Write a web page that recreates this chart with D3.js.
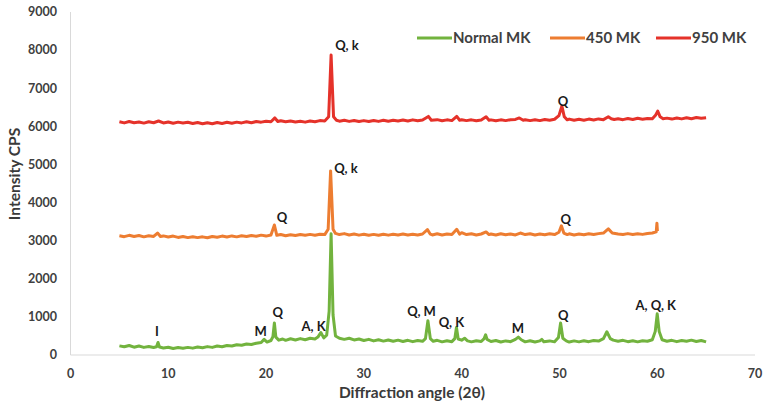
<!DOCTYPE html>
<html><head><meta charset="utf-8">
<script src="https://cdn.jsdelivr.net/npm/d3@7"></script>
<style>html,body{margin:0;padding:0;background:#fff;}svg{display:block;}</style>
</head><body>
<svg id="chart" width="764" height="413"></svg>
<script>
const seriesNames = ["Normal MK", "450 MK", "950 MK"];
const seriesColors = ["#72b33e", "#ed7d31", "#e5322a"];
const xTicks = [0, 10, 20, 30, 40, 50, 60, 70];
const yTicks = [0, 1000, 2000, 3000, 4000, 5000, 6000, 7000, 8000, 9000];

const normalMK = [[5.0,240],[5.5,215],[6.0,250],[6.5,205],[7.0,235],[7.5,200],[8.0,225],[8.5,195],[8.8,215],[8.95,330],[9.1,210],[9.5,185],[10.0,205],[10.5,170],[11.0,195],[11.5,175],[12.0,200],[12.5,180],[13.0,210],[13.5,190],[14.0,220],[14.5,200],[15.0,235],[15.5,215],[16.0,250],[16.5,235],[17.0,270],[17.5,255],[18.0,290],[18.5,275],[19.0,310],[19.5,330],[19.8,410],[20.1,340],[20.5,380],[20.7,480],[20.85,840],[21.0,470],[21.3,390],[21.7,420],[22.0,385],[22.5,425],[23.0,395],[23.5,430],[24.0,400],[24.5,440],[25.0,420],[25.3,470],[25.6,590],[25.9,450],[26.2,520],[26.45,1150],[26.65,3180],[26.85,1050],[27.1,500],[27.5,440],[28.0,410],[28.5,440],[29.0,395],[29.5,420],[30.0,380],[30.5,410],[31.0,370],[31.5,400],[32.0,365],[32.5,395],[33.0,360],[33.5,390],[34.0,355],[34.5,385],[35.0,350],[35.5,380],[36.0,360],[36.3,430],[36.55,900],[36.8,430],[37.1,360],[37.5,385],[38.0,345],[38.5,375],[39.0,350],[39.3,430],[39.47,720],[39.65,420],[40.0,390],[40.3,440],[40.6,370],[41.0,345],[41.5,375],[42.0,355],[42.3,430],[42.45,530],[42.6,410],[43.0,355],[43.5,380],[44.0,340],[44.5,370],[45.0,350],[45.5,410],[45.8,470],[46.1,400],[46.5,345],[47.0,375],[47.5,340],[48.0,370],[48.2,410],[48.4,350],[49.0,370],[49.5,345],[49.9,460],[50.12,840],[50.35,440],[50.7,370],[51.0,340],[51.5,370],[52.0,345],[52.5,375],[53.0,350],[53.5,380],[54.0,365],[54.5,430],[54.85,610],[55.2,430],[55.5,390],[56.0,360],[56.5,385],[57.0,350],[57.5,375],[58.0,345],[58.5,375],[59.0,360],[59.5,400],[59.8,620],[60.0,1080],[60.2,620],[60.5,400],[61.0,360],[61.5,385],[62.0,350],[62.5,380],[63.0,360],[63.5,390],[64.0,355],[64.5,380],[65.0,345]];

const mk450 = [[5.0,3130],[5.5,3105],[6.0,3140],[6.5,3110],[7.0,3135],[7.5,3100],[8.0,3130],[8.5,3110],[8.9,3200],[9.2,3110],[9.5,3125],[10.0,3095],[10.5,3120],[11.0,3085],[11.5,3110],[12.0,3080],[12.5,3105],[13.0,3080],[13.5,3100],[14.0,3075],[14.5,3110],[15.0,3090],[15.5,3120],[16.0,3095],[16.5,3125],[17.0,3100],[17.5,3130],[18.0,3110],[18.5,3135],[19.0,3115],[19.5,3145],[20.0,3120],[20.5,3150],[20.85,3410],[21.1,3140],[21.5,3160],[22.0,3130],[22.5,3155],[23.0,3135],[23.5,3160],[24.0,3140],[24.5,3165],[25.0,3140],[25.5,3170],[26.0,3160],[26.35,3300],[26.6,4830],[26.85,3300],[27.1,3190],[27.5,3160],[28.0,3185],[28.5,3150],[29.0,3175],[29.5,3145],[30.0,3170],[30.5,3140],[31.0,3165],[31.5,3140],[32.0,3170],[32.5,3145],[33.0,3170],[33.5,3150],[34.0,3175],[34.5,3150],[35.0,3170],[35.5,3150],[36.0,3175],[36.5,3290],[36.8,3170],[37.0,3150],[37.5,3180],[38.0,3150],[38.5,3175],[39.0,3160],[39.5,3300],[39.8,3170],[40.0,3210],[40.5,3160],[41.0,3180],[41.5,3150],[42.0,3175],[42.5,3230],[42.8,3160],[43.0,3175],[43.5,3150],[44.0,3180],[44.5,3155],[45.0,3175],[45.5,3150],[46.0,3200],[46.5,3160],[47.0,3180],[47.5,3150],[48.0,3175],[48.5,3155],[49.0,3180],[49.5,3160],[49.95,3220],[50.2,3390],[50.45,3200],[50.8,3160],[51.0,3180],[51.5,3150],[52.0,3175],[52.5,3155],[53.0,3180],[53.5,3160],[54.0,3185],[54.5,3200],[55.0,3310],[55.4,3200],[56.0,3175],[56.5,3160],[57.0,3185],[57.5,3160],[58.0,3180],[58.5,3165],[59.0,3190],[59.5,3200],[59.9,3230],[59.97,3460],[60.02,3250]];

const mk950 = [[5.0,6120],[5.5,6090],[6.0,6125],[6.5,6095],[7.0,6115],[7.5,6085],[8.0,6120],[8.5,6095],[9.0,6140],[9.5,6090],[10.0,6115],[10.5,6080],[11.0,6110],[11.5,6085],[12.0,6105],[12.5,6075],[13.0,6100],[13.5,6070],[14.0,6095],[14.5,6070],[15.0,6100],[15.5,6075],[16.0,6105],[16.5,6080],[17.0,6110],[17.5,6090],[18.0,6120],[18.5,6095],[19.0,6125],[19.5,6110],[20.0,6135],[20.5,6120],[20.9,6220],[21.2,6125],[21.5,6145],[22.0,6120],[22.5,6140],[23.0,6115],[23.5,6135],[24.0,6110],[24.5,6140],[25.0,6120],[25.5,6150],[26.0,6140],[26.4,6250],[26.65,7870],[26.9,6250],[27.2,6160],[27.5,6135],[28.0,6160],[28.5,6130],[29.0,6155],[29.5,6125],[30.0,6150],[30.5,6125],[31.0,6155],[31.5,6130],[32.0,6160],[32.5,6135],[33.0,6160],[33.5,6140],[34.0,6165],[34.5,6140],[35.0,6170],[35.5,6145],[36.0,6165],[36.6,6260],[36.9,6160],[37.5,6175],[38.0,6145],[38.5,6170],[39.0,6150],[39.5,6260],[39.8,6160],[40.0,6175],[40.5,6150],[41.0,6170],[41.5,6145],[42.0,6165],[42.5,6250],[42.8,6160],[43.0,6170],[43.5,6145],[44.0,6170],[44.5,6150],[45.0,6175],[45.5,6180],[45.9,6220],[46.3,6160],[46.5,6175],[47.0,6150],[47.5,6175],[48.0,6150],[48.5,6180],[49.0,6160],[49.5,6185],[49.95,6280],[50.25,6530],[50.5,6250],[50.8,6170],[51.0,6190],[51.5,6160],[52.0,6185],[52.5,6160],[53.0,6190],[53.5,6165],[54.0,6195],[54.5,6175],[55.0,6250],[55.3,6200],[55.6,6180],[56.0,6200],[56.5,6175],[57.0,6205],[57.5,6180],[58.0,6210],[58.5,6185],[59.0,6205],[59.5,6200],[59.85,6300],[60.05,6400],[60.3,6250],[60.6,6200],[61.0,6215],[61.5,6190],[62.0,6220],[62.5,6195],[63.0,6225],[63.5,6200],[64.0,6230],[64.5,6210],[65.0,6225]];

// peak annotations: [angle, intensity, text]
const peakLabels = [
  [28.27,8134,"Q, k"],[50.36,6665,"Q"],
  [28.17,4907,"Q, k"],[21.63,3621,"Q"],[50.66,3569,"Q"],
  [8.84,630,"I"],[19.45,630,"M"],[21.2,1128,"Q"],[24.85,761,"A, K"],
  [35.9,1155,"Q, M"],[38.95,866,"Q, K"],[45.75,708,"M"],[50.4,1050,"Q"],[59.85,1312,"A, Q, K"]
];

const svg = d3.select("#chart");
const x = d3.scaleLinear().domain([0,70]).range([70.5,755]);
const y = d3.scaleLinear().domain([0,9000]).range([355,12]);
const font = "Lato, 'Open Sans', sans-serif";

// axis lines
svg.append("line").attr("x1",x(0)).attr("x2",x(0)).attr("y1",y(9000)).attr("y2",y(0))
  .attr("stroke","#d9d9d9").attr("stroke-width",1);
svg.append("line").attr("x1",x(0)).attr("x2",x(70)).attr("y1",y(0)).attr("y2",y(0))
  .attr("stroke","#d9d9d9").attr("stroke-width",1);

// tick labels
svg.append("g").selectAll("text").data(yTicks).join("text")
  .attr("x",57).attr("y",d=>y(d)).attr("dy","0.35em").attr("text-anchor","end")
  .attr("font-family",font).attr("font-weight","bold").attr("font-size",12.5).attr("fill","#404040")
  .text(d=>d);
svg.append("g").selectAll("text").data(xTicks).join("text")
  .attr("x",d=>x(d)).attr("y",374).attr("dy","0.35em").attr("text-anchor","middle")
  .attr("font-family",font).attr("font-weight","bold").attr("font-size",12.5).attr("fill","#404040")
  .text(d=>d);

// axis titles
svg.append("text").attr("transform","translate(15,174) rotate(-90)").attr("text-anchor","middle")
  .attr("dy","0.35em").attr("font-family",font).attr("font-weight","bold").attr("font-size",15.5)
  .attr("fill","#3a3a3a").text("Intensity CPS");
svg.append("text").attr("x",412).attr("y",393).attr("dy","0.35em").attr("text-anchor","middle")
  .attr("font-family",font).attr("font-weight","bold").attr("font-size",15.5)
  .attr("fill","#3a3a3a").text("Diffraction angle (2θ)");

// series
const line = d3.line().x(d=>x(d[0])).y(d=>y(d[1]));
[normalMK, mk450, mk950].forEach((s,i)=>{
  svg.append("path").datum(s).attr("d",line).attr("fill","none")
    .attr("stroke",seriesColors[i]).attr("stroke-width",3).attr("stroke-linejoin","round");
});

// peak labels
svg.append("g").selectAll("text").data(peakLabels).join("text")
  .attr("x",d=>x(d[0])).attr("y",d=>y(d[1])).attr("dy","0.35em").attr("text-anchor","middle")
  .attr("font-family",font).attr("font-weight","bold").attr("font-size",13).attr("fill","#1a1a1a")
  .text(d=>d[2]);

// legend
const legendX = [417, 550, 656];
const lg = svg.append("g");
seriesNames.forEach((n,i)=>{
  lg.append("line").attr("x1",legendX[i]).attr("x2",legendX[i]+35).attr("y1",38).attr("y2",38)
    .attr("stroke",seriesColors[i]).attr("stroke-width",2.8);
  lg.append("text").attr("x",legendX[i]+36).attr("y",38).attr("dy","0.35em")
    .attr("font-family",font).attr("font-weight","bold").attr("font-size",15).attr("fill","#404040").text(n);
});
</script>
</body></html>
